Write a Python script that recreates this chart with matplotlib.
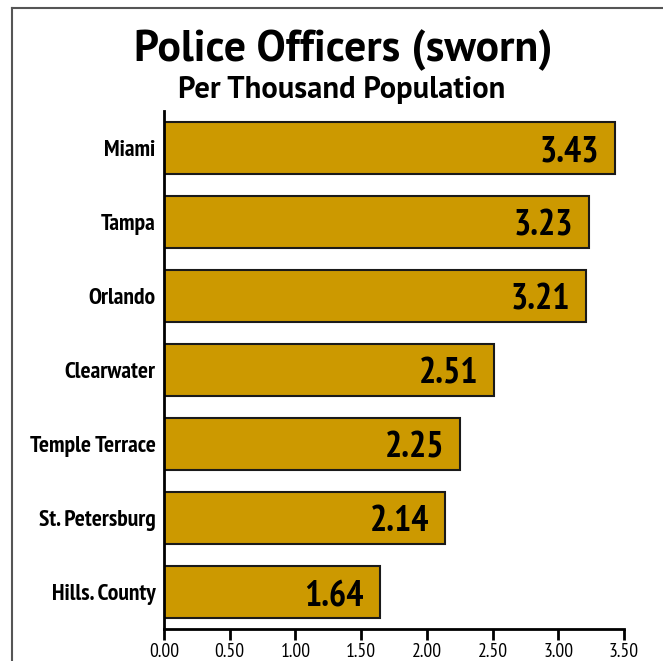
import matplotlib
matplotlib.use("Agg")
import matplotlib.pyplot as plt
from matplotlib.lines import Line2D

cities = ["Miami", "Tampa", "Orlando", "Clearwater", "Temple Terrace",
          "St. Petersburg", "Hills. County"]
officers = [3.43, 3.23, 3.21, 2.51, 2.25, 2.14, 1.64]
xticks = [0.0, 0.5, 1.0, 1.5, 2.0, 2.5, 3.0, 3.5]

narrow = ['PT Sans Narrow', 'DejaVu Sans']
wide = ['PT Sans', 'Open Sans', 'DejaVu Sans']
plt.rcParams['font.family'] = narrow

fig = plt.figure(figsize=(6.63, 6.61), dpi=100)
ax = fig.add_axes([164 / 663, 1 - 629 / 661, 460 / 663, 518 / 661])

ypos = list(range(len(cities)))
ax.barh(ypos, officers, height=0.71, color="#CC9900", edgecolor="#1a1a1a", linewidth=1.5)
for y, v in zip(ypos, officers):
    ax.text(v - 0.12, y, f"{v:.2f}", ha="right", va="center_baseline",
            fontsize=26, fontweight="bold", color="black")

ax.set_ylim(len(cities) - 0.5, -0.5)
ax.set_xlim(0, 3.5)
ax.set_yticks(ypos)
ax.set_yticklabels(cities, fontsize=17, fontweight="bold")
ax.set_xticks(xticks)
ax.set_xticklabels([f"{t:.2f}" for t in xticks], fontsize=14)
ax.tick_params(axis="y", length=0, pad=6)
ax.tick_params(axis="x", length=8, width=2, pad=2)
for s in ["top", "right"]:
    ax.spines[s].set_visible(False)
ax.spines["left"].set_linewidth(2)
ax.spines["bottom"].set_linewidth(2)

fig.text(343 / 663, 1 - 61 / 661, "Police Officers (sworn)", ha="center", va="baseline",
         fontsize=31.5, fontweight="bold", family=wide)
fig.text(342 / 663, 1 - 98 / 661, "Per Thousand Population", ha="center", va="baseline",
         fontsize=22, fontweight="bold", family=wide)

# outer frame
fig.add_artist(Line2D([12 / 663, 12 / 663], [0, 1 - 8 / 661], transform=fig.transFigure,
                      color="#555555", linewidth=1.5))
fig.add_artist(Line2D([12 / 663, 1], [1 - 8 / 661, 1 - 8 / 661], transform=fig.transFigure,
                      color="#555555", linewidth=1.5))

fig.savefig("out.png", dpi=100)
